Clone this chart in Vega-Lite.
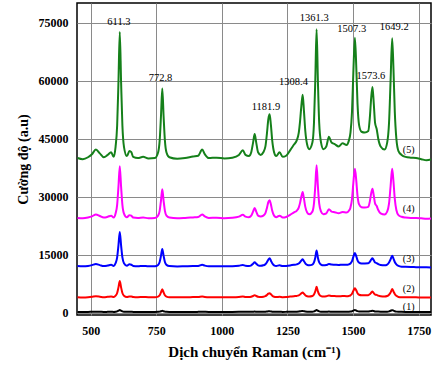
{
  "$schema": "https://vega.github.io/schema/vega-lite/v6.json",
  "width": 354,
  "height": 312,
  "autosize": {"type": "none"},
  "padding": {"left": 77, "top": 3, "right": 6, "bottom": 52},
  "background": "white",
  "config": {
    "view": {"stroke": "black", "strokeWidth": 1.5},
    "font": "Liberation Serif"
  },
  "datasets": {
    "spec": [
      {"x":450,"a":40000,"b":24500,"c":12100,"d":4000,"e":200},
      {"x":470,"a":39700,"b":24400,"c":12000,"d":3950,"e":200},
      {"x":490,"a":40200,"b":24600,"c":12100,"d":4000,"e":200},
      {"x":505,"a":41000,"b":24900,"c":12300,"d":4100,"e":220},
      {"x":520,"a":42200,"b":25400,"c":12600,"d":4250,"e":230},
      {"x":535,"a":41200,"b":25000,"c":12300,"d":4150,"e":220},
      {"x":550,"a":40200,"b":24600,"c":12050,"d":4000,"e":200},
      {"x":565,"a":40800,"b":24800,"c":12200,"d":4100,"e":210},
      {"x":578,"a":41500,"b":25100,"c":12400,"d":4200,"e":220},
      {"x":588,"a":40300,"b":24600,"c":12100,"d":4050,"e":200},
      {"x":595,"a":42900,"b":25650,"c":12800,"d":4380,"e":240},
      {"x":601,"a":48400,"b":27900,"c":14300,"d":5090,"e":325},
      {"x":606,"a":59700,"b":32600,"c":17400,"d":6540,"e":500},
      {"x":611,"a":72600,"b":37900,"c":20900,"d":8200,"e":700},
      {"x":616,"a":59700,"b":32600,"c":17400,"d":6540,"e":500},
      {"x":621,"a":48400,"b":27900,"c":14300,"d":5090,"e":325},
      {"x":627,"a":42900,"b":25650,"c":12800,"d":4380,"e":240},
      {"x":638,"a":40500,"b":24700,"c":12150,"d":4050,"e":210},
      {"x":648,"a":41800,"b":25200,"c":12500,"d":4200,"e":230},
      {"x":655,"a":41500,"b":25100,"c":12400,"d":4200,"e":220},
      {"x":662,"a":40300,"b":24600,"c":12100,"d":4050,"e":200},
      {"x":680,"a":40000,"b":24500,"c":12000,"d":4000,"e":200},
      {"x":700,"a":40300,"b":24600,"c":12100,"d":4050,"e":200},
      {"x":720,"a":39900,"b":24450,"c":12000,"d":4000,"e":200},
      {"x":745,"a":40000,"b":24500,"c":12000,"d":4000,"e":200},
      {"x":757,"a":41440,"b":25100,"c":12360,"d":4160,"e":220},
      {"x":763,"a":44500,"b":26350,"c":13130,"d":4510,"e":270},
      {"x":768,"a":50800,"b":28950,"c":14700,"d":5230,"e":360},
      {"x":773,"a":58000,"b":31900,"c":16500,"d":6050,"e":470},
      {"x":778,"a":50800,"b":28950,"c":14700,"d":5230,"e":360},
      {"x":783,"a":44500,"b":26350,"c":13130,"d":4510,"e":270},
      {"x":789,"a":41440,"b":25100,"c":12360,"d":4160,"e":220},
      {"x":800,"a":40200,"b":24600,"c":12050,"d":4000,"e":200},
      {"x":830,"a":39800,"b":24400,"c":11950,"d":3980,"e":200},
      {"x":860,"a":40000,"b":24500,"c":12000,"d":4000,"e":200},
      {"x":890,"a":40400,"b":24650,"c":12050,"d":4030,"e":200},
      {"x":910,"a":40600,"b":24750,"c":12100,"d":4050,"e":210},
      {"x":925,"a":42200,"b":25400,"c":12400,"d":4180,"e":230},
      {"x":935,"a":41000,"b":24900,"c":12170,"d":4080,"e":215},
      {"x":950,"a":40000,"b":24500,"c":12000,"d":4000,"e":200},
      {"x":980,"a":40100,"b":24550,"c":12000,"d":4000,"e":200},
      {"x":1010,"a":39900,"b":24450,"c":11980,"d":3990,"e":200},
      {"x":1040,"a":40100,"b":24550,"c":12000,"d":4000,"e":200},
      {"x":1065,"a":40800,"b":24850,"c":12130,"d":4060,"e":210},
      {"x":1080,"a":42000,"b":25300,"c":12350,"d":4160,"e":230},
      {"x":1090,"a":40800,"b":24850,"c":12130,"d":4060,"e":210},
      {"x":1103,"a":40500,"b":24700,"c":12080,"d":4040,"e":210},
      {"x":1112,"a":41500,"b":25100,"c":12250,"d":4120,"e":220},
      {"x":1119,"a":44000,"b":26150,"c":12680,"d":4320,"e":260},
      {"x":1125,"a":46200,"b":27050,"c":13050,"d":4500,"e":290},
      {"x":1131,"a":44000,"b":26150,"c":12680,"d":4320,"e":260},
      {"x":1138,"a":41500,"b":25100,"c":12250,"d":4120,"e":220},
      {"x":1148,"a":40800,"b":24850,"c":12130,"d":4060,"e":210},
      {"x":1158,"a":41500,"b":25100,"c":12250,"d":4120,"e":220},
      {"x":1166,"a":43000,"b":25730,"c":12510,"d":4270,"e":245},
      {"x":1172,"a":46500,"b":27170,"c":13100,"d":4585,"e":298},
      {"x":1177,"a":50000,"b":28600,"c":13700,"d":4900,"e":350},
      {"x":1182,"a":51300,"b":29100,"c":14100,"d":5000,"e":370},
      {"x":1187,"a":48500,"b":27990,"c":13450,"d":4765,"e":328},
      {"x":1192,"a":44500,"b":26350,"c":12770,"d":4400,"e":268},
      {"x":1199,"a":41500,"b":25100,"c":12250,"d":4135,"e":222},
      {"x":1207,"a":40500,"b":24700,"c":12080,"d":4040,"e":210},
      {"x":1220,"a":41500,"b":25100,"c":12250,"d":4120,"e":220},
      {"x":1232,"a":40300,"b":24600,"c":12050,"d":4020,"e":200},
      {"x":1245,"a":40600,"b":24750,"c":12100,"d":4050,"e":210},
      {"x":1260,"a":42000,"b":25300,"c":12220,"d":4160,"e":230},
      {"x":1275,"a":43500,"b":25950,"c":12380,"d":4280,"e":250},
      {"x":1285,"a":44500,"b":26350,"c":12500,"d":4340,"e":265},
      {"x":1293,"a":46500,"b":27170,"c":12720,"d":4490,"e":298},
      {"x":1298,"a":49500,"b":28400,"c":13050,"d":4710,"e":343},
      {"x":1303,"a":53500,"b":30030,"c":13490,"d":5010,"e":403},
      {"x":1308,"a":56400,"b":31200,"c":13800,"d":5200,"e":450},
      {"x":1313,"a":52000,"b":29420,"c":13320,"d":4900,"e":380},
      {"x":1318,"a":47000,"b":27370,"c":12770,"d":4525,"e":305},
      {"x":1325,"a":43500,"b":25940,"c":12390,"d":4260,"e":253},
      {"x":1333,"a":42300,"b":25450,"c":12250,"d":4180,"e":235},
      {"x":1345,"a":44000,"b":26140,"c":12440,"d":4300,"e":260},
      {"x":1351,"a":49000,"b":28190,"c":12990,"d":4700,"e":335},
      {"x":1356,"a":60000,"b":32700,"c":14200,"d":5500,"e":500},
      {"x":1361,"a":73300,"b":38150,"c":16100,"d":6700,"e":700},
      {"x":1366,"a":60000,"b":32700,"c":14200,"d":5500,"e":500},
      {"x":1371,"a":49000,"b":28190,"c":12990,"d":4700,"e":335},
      {"x":1378,"a":44000,"b":26140,"c":12440,"d":4300,"e":260},
      {"x":1387,"a":42300,"b":25450,"c":12250,"d":4180,"e":235},
      {"x":1398,"a":43000,"b":25700,"c":12330,"d":4240,"e":245},
      {"x":1408,"a":45500,"b":26750,"c":12600,"d":4440,"e":280},
      {"x":1418,"a":44000,"b":26150,"c":12440,"d":4320,"e":260},
      {"x":1430,"a":43600,"b":26000,"c":12400,"d":4290,"e":255},
      {"x":1445,"a":43000,"b":25700,"c":12330,"d":4240,"e":245},
      {"x":1460,"a":43800,"b":26050,"c":12420,"d":4300,"e":255},
      {"x":1475,"a":43400,"b":25900,"c":12370,"d":4270,"e":250},
      {"x":1484,"a":44500,"b":26350,"c":12500,"d":4340,"e":265},
      {"x":1490,"a":46500,"b":27170,"c":12720,"d":4490,"e":298},
      {"x":1496,"a":52000,"b":29420,"c":13320,"d":4900,"e":380},
      {"x":1501,"a":62000,"b":33520,"c":14420,"d":5650,"e":530},
      {"x":1507,"a":71100,"b":37250,"c":15420,"d":6300,"e":665},
      {"x":1512,"a":64000,"b":34340,"c":14640,"d":5800,"e":560},
      {"x":1517,"a":54000,"b":30240,"c":13540,"d":5050,"e":410},
      {"x":1523,"a":48500,"b":27990,"c":12940,"d":4640,"e":328},
      {"x":1532,"a":46800,"b":27290,"c":12750,"d":4510,"e":302},
      {"x":1545,"a":46600,"b":27200,"c":12730,"d":4530,"e":300},
      {"x":1558,"a":47000,"b":27370,"c":12770,"d":4525,"e":305},
      {"x":1564,"a":50500,"b":28800,"c":13150,"d":4790,"e":358},
      {"x":1569,"a":55500,"b":30860,"c":13700,"d":5160,"e":433},
      {"x":1574,"a":58400,"b":32050,"c":14050,"d":5500,"e":475},
      {"x":1579,"a":54000,"b":30240,"c":13540,"d":5050,"e":410},
      {"x":1584,"a":49000,"b":28190,"c":12990,"d":4680,"e":335},
      {"x":1590,"a":47500,"b":27600,"c":12820,"d":4600,"e":310},
      {"x":1596,"a":45000,"b":26550,"c":12550,"d":4400,"e":275},
      {"x":1605,"a":43000,"b":25700,"c":12330,"d":4240,"e":245},
      {"x":1620,"a":42200,"b":25400,"c":12240,"d":4180,"e":235},
      {"x":1630,"a":44000,"b":26140,"c":12440,"d":4300,"e":260},
      {"x":1637,"a":49000,"b":28190,"c":12990,"d":4650,"e":335},
      {"x":1643,"a":60000,"b":32700,"c":13800,"d":5200,"e":500},
      {"x":1649,"a":71000,"b":37200,"c":14700,"d":6100,"e":660},
      {"x":1654,"a":63000,"b":33930,"c":14000,"d":5500,"e":545},
      {"x":1659,"a":52000,"b":29420,"c":13100,"d":4850,"e":380},
      {"x":1665,"a":45000,"b":26550,"c":12500,"d":4350,"e":275},
      {"x":1673,"a":41800,"b":25240,"c":12100,"d":4080,"e":227},
      {"x":1685,"a":40800,"b":24800,"c":11900,"d":4000,"e":210},
      {"x":1700,"a":40300,"b":24600,"c":11850,"d":3980,"e":200},
      {"x":1720,"a":40100,"b":24500,"c":11800,"d":3970,"e":200},
      {"x":1740,"a":40000,"b":24500,"c":11780,"d":3960,"e":200},
      {"x":1760,"a":39700,"b":24400,"c":11750,"d":3950,"e":200},
      {"x":1780,"a":39400,"b":24300,"c":11720,"d":3940,"e":190},
      {"x":1797,"a":39600,"b":24350,"c":11700,"d":3950,"e":190}
    ],
    "peaks": [
      {"x":608,"y":75100,"t":"611.3"},
      {"x":766,"y":60600,"t":"772.8"},
      {"x":1168,"y":53300,"t":"1181.9"},
      {"x":1273,"y":59700,"t":"1308.4"},
      {"x":1352,"y":76100,"t":"1361.3"},
      {"x":1495,"y":73300,"t":"1507.3"},
      {"x":1568,"y":61200,"t":"1573.6"},
      {"x":1657,"y":74000,"t":"1649.2"}
    ],
    "series": [
      {"x":1712,"y":42100,"t":"(5)"},
      {"x":1712,"y":26700,"t":"(4)"},
      {"x":1712,"y":13800,"t":"(3)"},
      {"x":1712,"y":6050,"t":"(2)"},
      {"x":1712,"y":1550,"t":"(1)"}
    ]
  },
  "layer": [
    {
      "data": {"name": "spec"},
      "transform": [{"fold": ["e","d","c","b","a"], "as": ["s","y"]}],
      "mark": {"type": "line", "strokeWidth": 2, "interpolate": "monotone", "clip": true},
      "encoding": {
        "x": {
          "field": "x", "type": "quantitative",
          "scale": {"domain": [448, 1797], "nice": false, "zero": false},
          "axis": {
            "values": [500,625,750,875,1000,1125,1250,1375,1500,1625,1750],
            "labelExpr": "datum.value % 250 === 0 ? datum.label : ''",
            "format": "d",
            "title": "Dịch chuyển Raman (cm⁻¹)",
            "titleFont": "Liberation Serif", "titleFontSize": 15, "titleFontWeight": "bold", "titleColor": "black",
            "titlePadding": 8,
            "labelFont": "Liberation Serif", "labelFontSize": 12, "labelFontWeight": "bold", "labelColor": "black",
            "labelPadding": 10,
            "domain": false, "ticks": false,
            "grid": true,
            "gridColor": {"condition": {"test": "datum.value % 250 !== 0", "value": "#c8c8c8"}, "value": "#8a8a8a"},
            "gridDash": {"condition": {"test": "datum.value % 250 !== 0", "value": [2, 2]}, "value": []},
            "gridWidth": 1
          }
        },
        "y": {
          "field": "y", "type": "quantitative",
          "scale": {"domain": [-600, 80100], "nice": false, "zero": false},
          "axis": {
            "values": [0,7500,15000,22500,30000,37500,45000,52500,60000,67500,75000],
            "labelExpr": "datum.value % 15000 === 0 ? format(datum.value, 'd') : ''",
            "title": "Cường độ (a.u)",
            "titleFont": "Liberation Serif", "titleFontSize": 14, "titleFontWeight": "bold", "titleColor": "black",
            "titlePadding": 8,
            "labelFont": "Liberation Serif", "labelFontSize": 12, "labelFontWeight": "bold", "labelColor": "black",
            "labelPadding": 9,
            "domain": false, "ticks": false,
            "grid": true,
            "gridColor": {"condition": {"test": "datum.value % 15000 !== 0", "value": "#c8c8c8"}, "value": "#8a8a8a"},
            "gridDash": {"condition": {"test": "datum.value % 15000 !== 0", "value": [2, 2]}, "value": []},
            "gridWidth": 1
          }
        },
        "color": {
          "field": "s", "type": "nominal",
          "scale": {"domain": ["a","b","c","d","e"], "range": ["#15801a","#ff00ff","#0000ff","#ff0000","#000000"]},
          "legend": null
        },
        "order": {"field": "x", "type": "quantitative"}
      }
    },
    {
      "data": {"name": "peaks"},
      "mark": {"type": "text", "font": "Liberation Serif", "fontSize": 10.5, "color": "black"},
      "encoding": {
        "x": {"field": "x", "type": "quantitative"},
        "y": {"field": "y", "type": "quantitative"},
        "text": {"field": "t"}
      }
    },
    {
      "data": {"name": "series"},
      "mark": {"type": "text", "font": "Liberation Serif", "fontSize": 10, "color": "black"},
      "encoding": {
        "x": {"field": "x", "type": "quantitative"},
        "y": {"field": "y", "type": "quantitative"},
        "text": {"field": "t"}
      }
    }
  ]
}
